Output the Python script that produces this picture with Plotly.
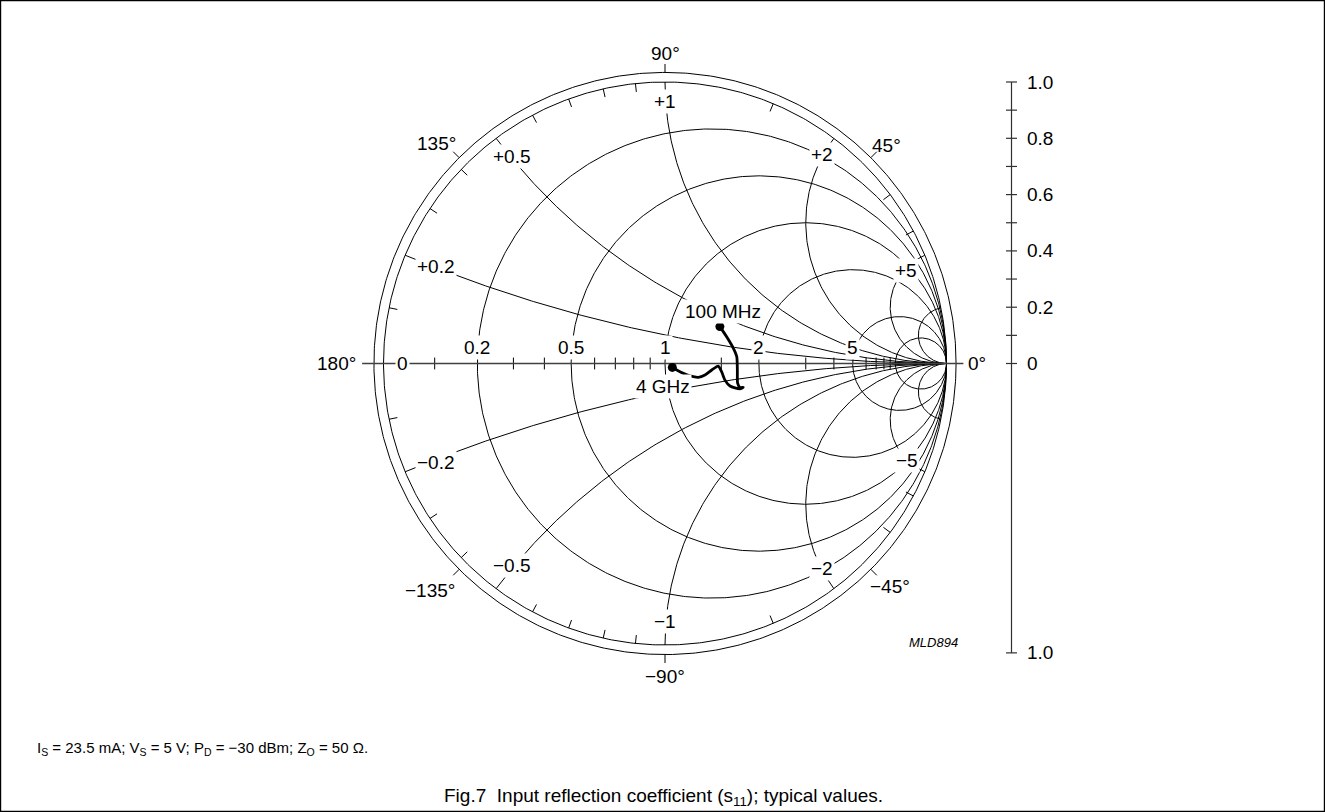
import numpy as np
import plotly.graph_objects as go

# ---------------- data ----------------
# s11 (reflection coefficient) real / imaginary parts, 100 MHz -> 4 GHz
s11_real = [0.195, 0.219, 0.243, 0.255, 0.257, 0.258, 0.266, 0.278, 0.266,
            0.231, 0.213, 0.201, 0.189, 0.166, 0.142, 0.118, 0.089, 0.065,
            0.042, 0.026]
s11_imag = [0.131, 0.095, 0.054, 0.024, -0.023, -0.070, -0.085, -0.085, -0.090,
            -0.080, -0.059, -0.029, -0.009, -0.023, -0.041, -0.049, -0.044,
            -0.035, -0.023, -0.014]
end_labels = ["100 MHz", "4 GHz"]

resistance_circles = [0.2, 0.5, 1, 2, 5, 10]
reactance_arcs = [0.2, 0.5, 1, 2, 5, 10]
resistance_labels = [0, 0.2, 0.5, 1, 2, 5]
resistance_minor = [0.1, 0.3, 0.4, 0.6, 0.7, 0.8, 0.9, 1.5, 3, 4, 6, 7, 8, 9]
reactance_minor = [0.1, 0.3, 0.4, 0.6, 0.7, 0.8, 0.9, 1.5, 3, 4]
reactance_labels = ["+0.2", "+0.5", "+1", "+2", "+5", "\u22120.2", "\u22120.5", "\u22121", "\u22122", "\u22125"]
angle_ticks = [0, 45, 90, 135, 180, -135, -90, -45]
angle_labels = ["0\u00b0", "45\u00b0", "90\u00b0", "135\u00b0", "180\u00b0",
                "\u2212135\u00b0", "\u221290\u00b0", "\u221245\u00b0"]
scale_ticks = [0, 0.1, 0.2, 0.3, 0.4, 0.5, 0.6, 0.7, 0.8, 0.9, 1.0]
scale_labels = ["0", "0.2", "0.4", "0.6", "0.8", "1.0"]
scale_label_vals = [0, 0.2, 0.4, 0.6, 0.8, 1.0]

conditions = "I<sub>S</sub> = 23.5 mA; V<sub>S</sub> = 5 V; P<sub>D</sub> = \u221230 dBm; Z<sub>O</sub> = 50 \u03a9."
caption = "Fig.7\u00a0\u00a0Input reflection coefficient (s<sub>11</sub>); typical values."
code_label = "MLD894"

# ---------------- layout geometry (pixels) ----------------
W, H = 1325, 812
CX, CY, R = 665.0, 363.5, 281.5
OUTER = 1.034
FONT = "Liberation Sans, Arial, Helvetica, sans-serif"
LBL = 19


def gamma(z):
    return (z - 1) / (z + 1)


gx, gy = [], []


def add(xs, ys):
    gx.extend(list(xs) + [None])
    gy.extend(list(ys) + [None])


t = np.linspace(0, 2 * np.pi, 721)
# boundary + outer ring
add(np.cos(t), np.sin(t))
add(OUTER * np.cos(t), OUTER * np.sin(t))
# resistance circles
for r in resistance_circles:
    c, rad = r / (1 + r), 1 / (1 + r)
    add(c + rad * np.cos(t), rad * np.sin(t))
# reactance arcs
rr = np.concatenate([[0.0], np.logspace(-3, 4, 700)])
for xv in reactance_arcs:
    for s in (1, -1):
        g = gamma(rr + 1j * s * xv)
        add(np.append(g.real, 1.0), np.append(g.imag, 0.0))
# angle ticks (outward from the outer ring)
for a in angle_ticks:
    if a in (0, 180):
        continue
    th = np.deg2rad(a)
    add([OUTER * np.cos(th), (OUTER + 0.03) * np.cos(th)],
        [OUTER * np.sin(th), (OUTER + 0.03) * np.sin(th)])
# reactance minor ticks on the boundary (inward)
for xv in reactance_minor:
    for s in (1, -1):
        g = gamma(1j * s * xv)
        add([g.real, 0.97 * g.real], [g.imag, 0.97 * g.imag])
# resistance minor ticks on the real axis
for r in resistance_minor:
    g = gamma(r)
    add([g.real, g.real], [-0.021, 0.021])

fig = go.Figure()
fig.add_trace(go.Scatter(x=gx, y=gy, mode="lines", line=dict(color="black", width=1),
                         hoverinfo="skip", showlegend=False))
# real axis
fig.add_trace(go.Scatter(x=[-1.076, 1.06], y=[0, 0], mode="lines",
                         line=dict(color="#404040", width=1.6), hoverinfo="skip", showlegend=False))

# right-hand magnitude scale
SX = (1011.5 - CX) / R
sx, sy = [SX, SX, None], [1.0, -1.028, None]
for v in scale_ticks + [-1.028]:
    sx += [SX - 0.0195, SX + 0.0195, None]
    sy += [v, v, None]
fig.add_trace(go.Scatter(x=sx, y=sy, mode="lines", line=dict(color="#303030", width=1.2),
                         hoverinfo="skip", showlegend=False))

# data curve
fig.add_trace(go.Scatter(x=s11_real, y=s11_imag, mode="lines",
                         line=dict(color="black", width=2.8, shape="spline", smoothing=0.6),
                         hoverinfo="skip", showlegend=False))
fig.add_trace(go.Scatter(x=[s11_real[0], s11_real[-1]], y=[s11_imag[0], s11_imag[-1]],
                         mode="markers", marker=dict(color="black", size=9),
                         hoverinfo="skip", showlegend=False))

ann = []


def label(x, y, text, size=LBL, bg="white", xanchor="center", yanchor="middle", italic=False, xref="x", yref="y"):
    ann.append(dict(x=x, y=y, xref=xref, yref=yref, text=text, showarrow=False,
                    xanchor=xanchor, yanchor=yanchor, bgcolor=bg, borderpad=1,
                    font=dict(family=FONT, size=size, color="black",
                              style="italic" if italic else "normal")))


# resistance labels on the real axis
for r in resistance_labels:
    g = gamma(r)
    if r == 0:
        label(-0.931, 0.0, "0")
    else:
        label(g.real, 0.056, f"{r:g}")

# reactance labels (positions on the arcs, near the boundary)
react_pos = [(-0.813, 0.343), (-0.545, 0.735), (0.0, 0.930), (0.557, 0.741), (0.856, 0.332),
             (-0.813, -0.350), (-0.543, -0.716), (0.0, -0.917), (0.557, -0.728), (0.860, -0.343)]
for txt, (px, py) in zip(reactance_labels, react_pos):
    label(px, py, txt)

# angle labels
ang_pos = [(1.108, 0.0), (0.787, 0.776), (0.0, 1.102), (-0.811, 0.782), (-1.166, 0.0),
           (-0.835, -0.806), (0.0, -1.113), (0.799, -0.793)]
for txt, (px, py) in zip(angle_labels, ang_pos):
    label(px, py, txt, bg="rgba(0,0,0,0)")

# frequency labels
label(0.207, 0.184, end_labels[0])
label(-0.006, -0.082, end_labels[1])

# scale labels
for txt, v in zip(scale_labels, scale_label_vals):
    label((1025 - CX) / R, v, txt, xanchor="left", bg="rgba(0,0,0,0)")
label((1025 - CX) / R, -1.028, "1.0", xanchor="left", bg="rgba(0,0,0,0)")

label((933 - CX) / R, (CY - 642) / R, code_label, size=13, italic=True, bg="rgba(0,0,0,0)")

label(35 / W, 1 - 748 / H, conditions, size=15, xanchor="left", bg="rgba(0,0,0,0)",
      xref="paper", yref="paper")
label(663 / W, 1 - 797 / H, caption, size=19, bg="rgba(0,0,0,0)", xref="paper", yref="paper")

fig.update_layout(
    width=W, height=H, margin=dict(l=0, r=0, t=0, b=0, pad=0),
    paper_bgcolor="white", plot_bgcolor="white",
    xaxis=dict(range=[-CX / R, (W - CX) / R], visible=False, fixedrange=True),
    yaxis=dict(range=[-(H - CY) / R, CY / R], visible=False, fixedrange=True),
    annotations=ann, hovermode=False, showlegend=False,
    shapes=[dict(type="rect", xref="paper", yref="paper", x0=0.6 / W, x1=1 - 0.6 / W,
                 y0=0.6 / H, y1=1 - 0.6 / H, line=dict(color="black", width=1.2))],
)

fig.write_html("out.html", config={"displayModeBar": False},
               post_script="document.body.style.margin='0';")
